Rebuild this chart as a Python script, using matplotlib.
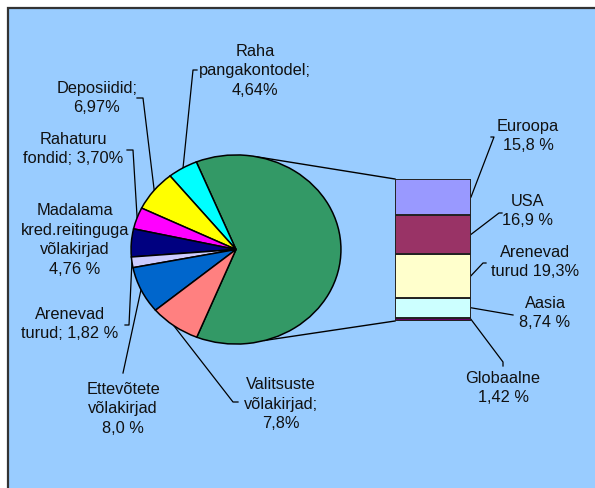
import numpy as np
import matplotlib
matplotlib.use("Agg")
import matplotlib.pyplot as plt
from matplotlib.patches import Rectangle

plt.rcParams['font.family'] = ['Liberation Sans', 'DejaVu Sans']

# pie data (counter-clockwise from the big slice)
pie_labels = ["Aktsiafondid\n62,20%", "Raha\npangakontodel;\n4,64%", "Deposiidid;\n6,97%",
              "Rahaturu\nfondid; 3,70%", "Madalama\nkred.reitinguga\nvõlakirjad\n4,76 %",
              "Arenevad\nturud; 1,82 %", "Ettevõtete\nvõlakirjad\n8,0 %",
              "Valitsuste\nvõlakirjad;\n7,8%"]
pie_values = [62.20, 4.64, 6.97, 3.70, 4.76, 1.82, 8.0, 7.8]
pie_colors = ["#339966", "#00FFFF", "#FFFF00", "#FF00FF", "#000080", "#CCCCFF", "#0066CC", "#FF8080"]

# breakdown of Aktsiafondid (bottom to top)
bar_labels = ["Globaalne\n1,42 %", "Aasia\n8,74 %", "Arenevad\nturud 19,3%", "USA\n16,9 %", "Euroopa\n15,8 %"]
bar_values = [1.42, 8.74, 19.3, 16.9, 15.8]
bar_colors = ["#660066", "#CCFFFF", "#FFFFCC", "#993366", "#9999FF"]

W, H = 595, 488
fig = plt.figure(figsize=(W / 100, H / 100), dpi=100)
fig.patch.set_facecolor("white")

# overlay axes in pixel coordinates
ax = fig.add_axes([0, 0, 1, 1])
ax.set_xlim(0, W)
ax.set_ylim(H, 0)
ax.axis("off")
ax.add_patch(Rectangle((8, 8), W + 10, H + 10, facecolor="#99CCFF", edgecolor="#333333", lw=1.6, zorder=0))


def px_box(x0, y0, x1, y1):
    return [x0 / W, 1 - y1 / H, (x1 - x0) / W, (y1 - y0) / H]


# pie (slightly elliptical, as in the original)
ax_pie = fig.add_axes(px_box(130, 154, 342, 345))
start = -pie_values[0] * 3.6 / 2
wedges, _ = ax_pie.pie(pie_values, colors=pie_colors, startangle=start, counterclock=True,
                       wedgeprops=dict(edgecolor="black", linewidth=1.1))
ax_pie.set_aspect("auto")
ax_pie.set_xlim(-1.01, 1.01)
ax_pie.set_ylim(-1.01, 1.01)
ax_pie.axis("off")

# bar of the equity part
ax_bar = fig.add_axes(px_box(395, 179, 471, 321))
bottoms = np.concatenate([[0], np.cumsum(bar_values)[:-1]])
ax_bar.bar([0] * len(bar_values), bar_values, bottom=bottoms, width=1.0, color=bar_colors,
           edgecolor="#222222", linewidth=1.4)
ax_bar.set_xlim(-0.5, 0.5)
ax_bar.set_ylim(0, sum(bar_values))
ax_bar.axis("off")


def to_px(axes, pt):
    return ax.transData.inverted().transform(axes.transData.transform(pt))


def pie_edge(angle_deg):
    a = np.radians(angle_deg)
    return to_px(ax_pie, (np.cos(a), np.sin(a)))


# mid angles of wedges
ang = start
mids = []
for v in pie_values:
    mids.append(ang + v * 3.6 / 2)
    ang += v * 3.6

fs = 11.8
txt = dict(ha="center", va="center", fontsize=fs, color="#111111", linespacing=1.38)

# series lines pie -> bar
total = sum(bar_values)
for angle_deg, yb in [(79, total), (-74, 0)]:
    p = pie_edge(angle_deg)
    q = to_px(ax_bar, (-0.5, yb))
    ax.plot([p[0], q[0]], [p[1], q[1]], color="black", lw=1.0, zorder=1)

# pie labels: text position and leader path (label side)
pie_text_pos = [(290, 238), (255, 71), (97, 98), (73, 149), (75, 240), (70, 324), (123, 409), (281, 404)]
pie_leaders = [None, [(197, 70), (193, 70)], [(137, 98), (143, 98)], [(127, 150), (133, 150)],
               None, [(125, 325), (129, 325)], [(123, 373)], [(238, 402), (233, 402)]]
for lab, pos, lead, m in zip(pie_labels, pie_text_pos, pie_leaders, mids):
    ax.text(pos[0], pos[1], lab, **txt)
    if lead:
        e = pie_edge(m)
        xs = [p[0] for p in lead] + [e[0]]
        ys = [p[1] for p in lead] + [e[1]]
        ax.plot(xs, ys, color="black", lw=0.9, zorder=3)

# bar labels
bar_text_pos = [(503, 388), (545, 313), (535, 262), (528, 211), (528, 136)]
bar_leaders = [[(503, 366), (503, 362)], [(513, 315)], [(486, 263), (483, 263)],
               [(502, 213), (499, 213)], [(491, 137), (494, 137)]]
for lab, pos, lead, b, v in zip(bar_labels, bar_text_pos, bar_leaders, bottoms, bar_values):
    ax.text(pos[0], pos[1], lab, **txt)
    e = to_px(ax_bar, (0.5, b + v / 2))
    xs = [p[0] for p in lead] + [e[0]]
    ys = [p[1] for p in lead] + [e[1]]
    ax.plot(xs, ys, color="black", lw=0.9, zorder=3)

fig.savefig("out.png", dpi=100)
